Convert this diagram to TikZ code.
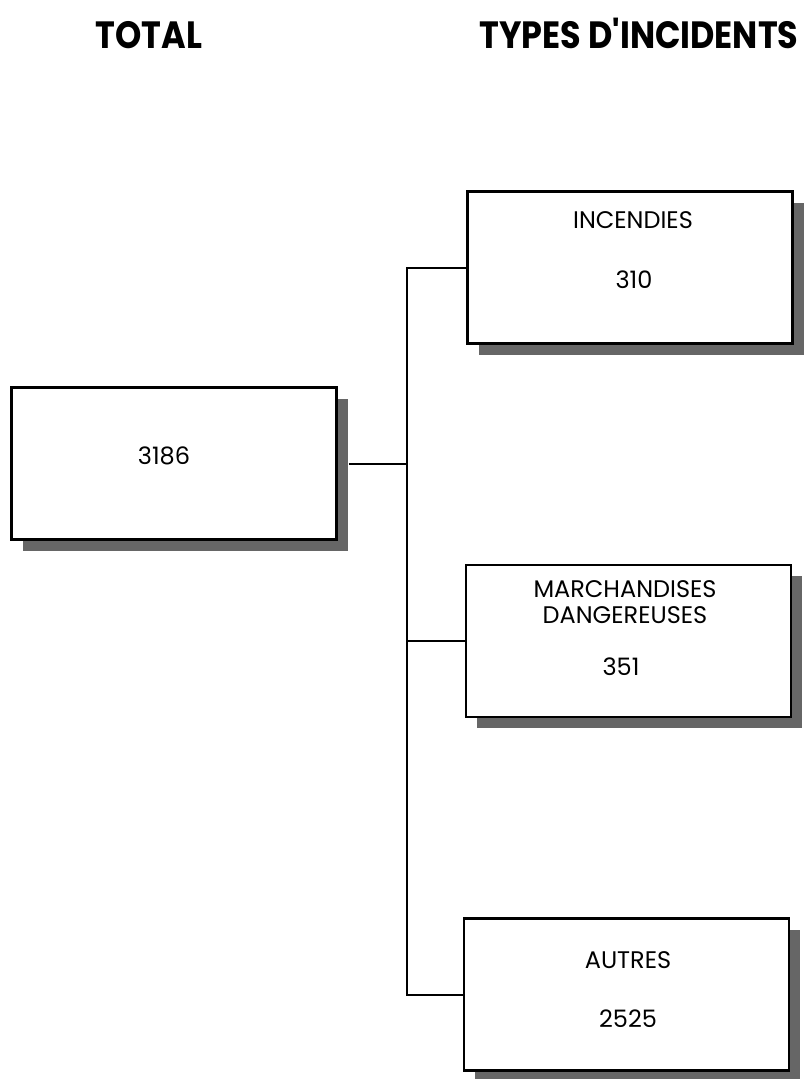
\documentclass[tikz,border=0pt]{standalone}
\usepackage{fontspec}
\usepackage{graphicx}
\setmainfont{Poppins}
\newfontfamily\headfont{Poppins}[Ligatures=TeXOff]
\usetikzlibrary{shadows}
\begin{document}
\begin{tikzpicture}[x=0.75pt,y=-0.75pt,
  box/.style={draw=black, line width=2pt, fill=white,
    minimum width=243.75pt, minimum height=114pt, inner sep=0pt,
    drop shadow={shadow xshift=8.25pt, shadow yshift=-8.25pt, fill=black!60, opacity=1}},
  lab/.style={anchor=base, inner sep=0pt, font=\fontsize{18}{20}\selectfont},
  head/.style={anchor=base, inner sep=0pt, font=\headfont\fontsize{28.5}{30}\selectfont\bfseries},
  conn/.style={line width=1.5pt}]
\useasboundingbox (0,0) rectangle (806,1079);
% headers
\node[head] (hTot) at (149,48.5) {\scalebox{0.88}[1]{TOTAL}};
\node[head] (hTyp) at (639,48.5) {\scalebox{0.88}[1]{TYPES D'INCIDENTS}};
% boxes
\node[box] (tot) at (174,463.5) {};
\node[box] (inc) at (630,267.5) {};
\node[box] (mar) at (628.5,641) {};
\node[box] (aut) at (626.5,994.5) {};
% labels
\node[lab] (tTot) at (164,464) {3186};
\node[lab] (tInc) at (633,228) {INCENDIES};
\node[lab] (nInc) at (634,288) {310};
\node[lab] (tMar1) at (625,597) {MARCHANDISES};
\node[lab] (tMar2) at (625,623) {DANGEREUSES};
\node[lab] (nMar) at (621,675) {351};
\node[lab] (tAut) at (628,968) {AUTRES};
\node[lab] (nAut) at (628,1027) {2525};
% connectors
\coordinate (trunk) at (407,0);
\draw[conn] (inc.west) -- (inc.west -| trunk) -- (aut.west -| trunk) -- (aut.west);
\draw[conn] (mar.west) -- (mar.west -| trunk);
\draw[conn] ([xshift=8.25pt]tot.east) -- (tot.east -| trunk);
\end{tikzpicture}
\end{document}
